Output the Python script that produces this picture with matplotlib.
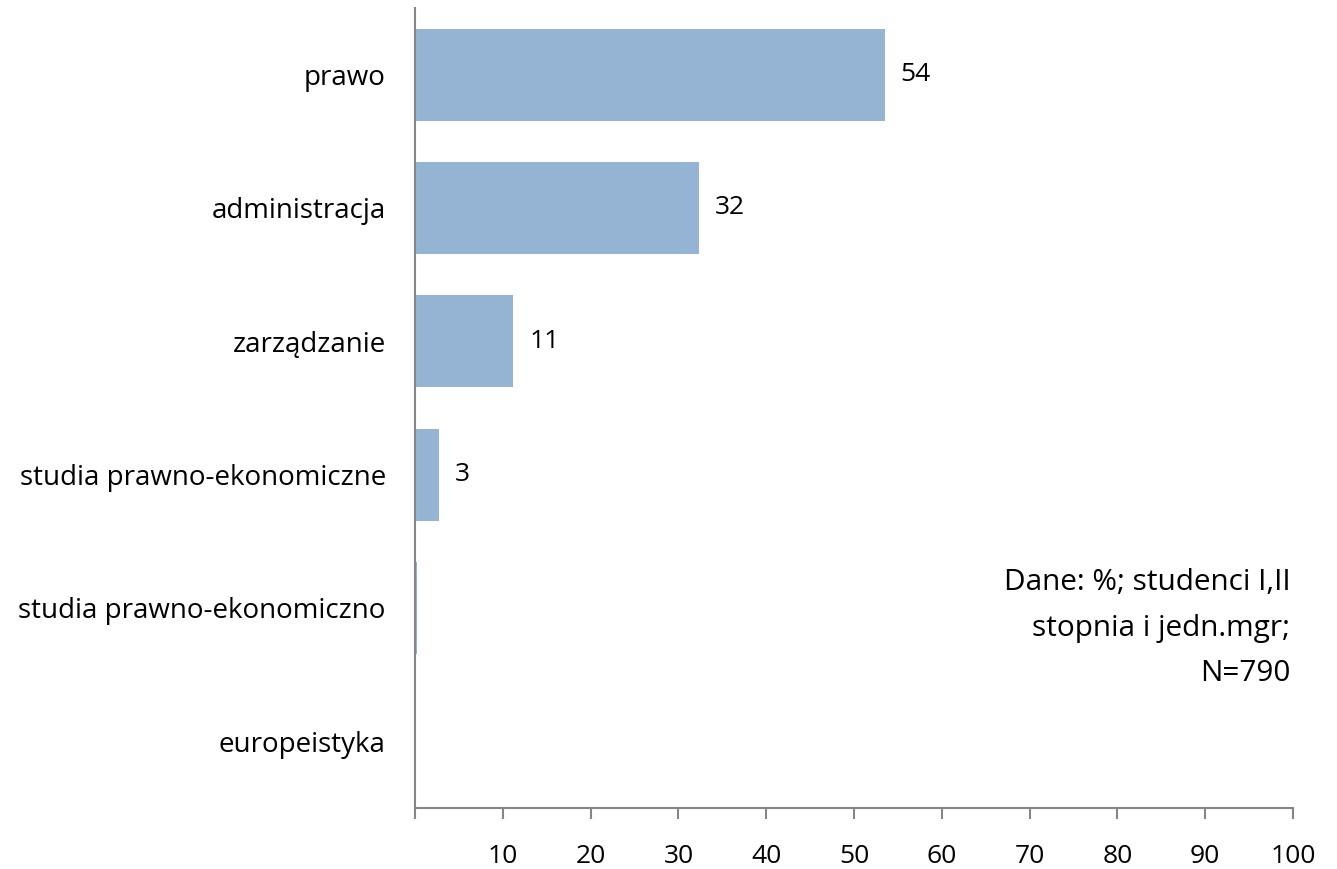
import matplotlib
matplotlib.use("Agg")
import matplotlib.pyplot as plt
import numpy as np

plt.rcParams['font.family'] = ['Open Sans', 'DejaVu Sans']

categories = ["prawo", "administracja", "zarządzanie", "studia prawno-ekonomiczne",
              "studia prawno-ekonomiczno", "europeistyka"]
values = [53.5, 32.3, 11.2, 2.7, 0.2, 0.0]
labels = ["54", "32", "11", "3", "", ""]
x_ticks = [0, 10, 20, 30, 40, 50, 60, 70, 80, 90, 100]
x_ticklabels = ["", "10", "20", "30", "40", "50", "60", "70", "80", "90", "100"]

BAR_COLOR = "#95b4d3"
AXIS_COLOR = "#868686"

fig = plt.figure(figsize=(13.37, 8.69), dpi=100)
ax = fig.add_axes([0.3104, 0.0702, 0.6567, 0.9206])

y = np.arange(len(categories))
ax.barh(y, values, height=0.69, color=BAR_COLOR)

for yi, v, lab in zip(y, values, labels):
    if lab:
        ax.text(v + 1.8, yi, lab, va="center", ha="left", fontsize=19)

ax.set_ylim(len(categories) - 0.5, -0.5)
ax.set_xlim(0, 100)
ax.set_yticks(y)
ax.set_yticklabels(categories, fontsize=20)
ax.set_xticks(x_ticks)
ax.set_xticklabels(x_ticklabels, fontsize=19)

ax.tick_params(axis="y", length=0, pad=21)
ax.tick_params(axis="x", length=8, width=1.5, color=AXIS_COLOR, pad=18)

for side in ["top", "right"]:
    ax.spines[side].set_visible(False)
for side in ["left", "bottom"]:
    ax.spines[side].set_color(AXIS_COLOR)
    ax.spines[side].set_linewidth(1.5)

fig.text(0.965, 0.277, "Dane: %; studenci I,II\nstopnia i jedn.mgr;\nN=790",
         ha="right", va="center", fontsize=21.4, linespacing=1.75)

fig.savefig("out.png", dpi=100)
